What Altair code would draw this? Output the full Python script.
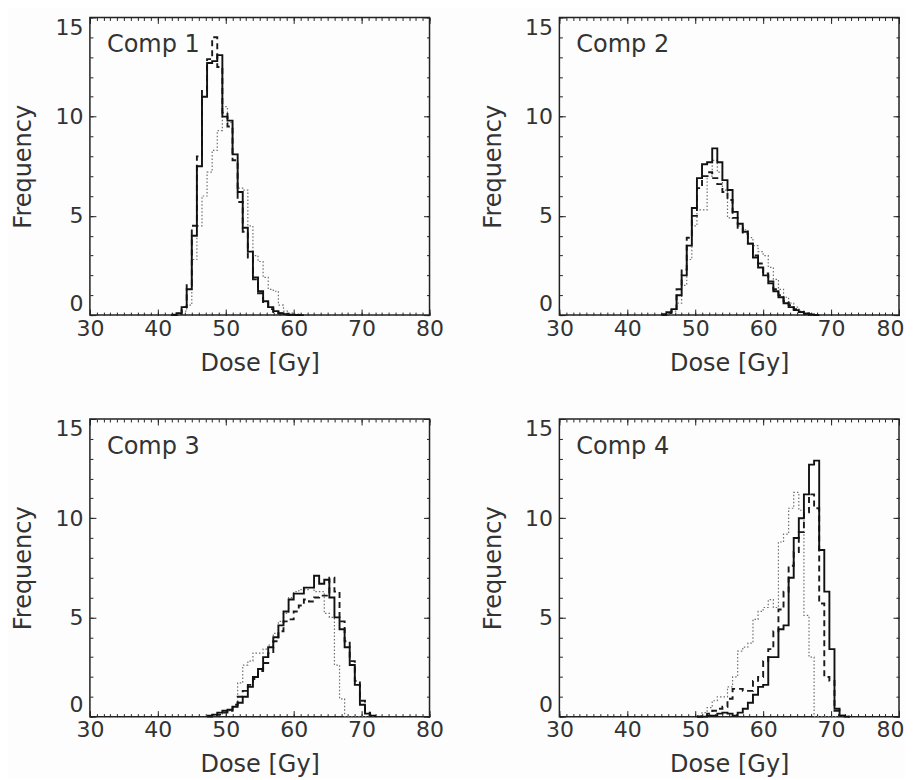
import altair as alt
import pandas as pd

# ---------------- data ----------------
BIN = 0.75  # histogram bin width [Gy]

X_MAJOR = [30, 40, 50, 60, 70, 80]
X_MINOR = list(range(30, 81))
Y_MAJOR = [0, 5, 10, 15]
Y_MINOR = list(range(0, 16))

PANEL_NAMES = ["Comp 1", "Comp 2", "Comp 3", "Comp 4"]

# Comp 1: bins start at 42.0 Gy
p1_start = 42.0
p1_solid = [0.02, 0.1, 0.4, 1.3, 4.0, 7.5, 11.0, 12.7, 12.8, 13.1, 10.0, 9.8, 8.1, 6.2, 4.4, 3.2,
            1.9, 1.2, 0.7, 0.4, 0.2, 0.1, 0.05, 0.02, 0.01, 0.0]
p1_dashed = [0.0, 0.05, 0.4, 1.5, 4.5, 8.0, 11.3, 12.9, 14.0, 12.5, 10.2, 9.5, 7.8, 5.7, 4.2, 2.9,
             1.8, 1.1, 0.6, 0.3, 0.15, 0.08, 0.03, 0.01, 0.0, 0.0]
p1_dotted = [0.0, 0.05, 0.2, 0.5, 2.8, 4.5, 6.0, 7.2, 8.3, 9.3, 10.5, 9.7, 8.1, 6.4, 6.3, 4.5,
             3.0, 2.7, 1.9, 1.3, 1.2, 0.5, 0.2, 0.1, 0.05, 0.0]

# Comp 2: bins start at 45.0 Gy
p2_start = 45.0
p2_solid = [0.05, 0.15, 0.3, 1.0, 2.0, 3.5, 5.4, 6.9, 7.6, 7.7, 8.4, 7.7, 6.8, 6.3, 5.2, 4.6,
            4.2, 3.6, 2.9, 2.4, 2.0, 1.6, 1.2, 0.9, 0.6, 0.4, 0.25, 0.15, 0.07, 0.03, 0.0]
p2_dashed = [0.0, 0.1, 0.3, 1.3, 2.3, 3.9, 5.0, 6.4, 7.0, 7.2, 6.9, 6.6, 6.2, 5.8, 4.9, 4.4,
             4.1, 3.6, 3.0, 2.6, 2.1, 1.7, 1.3, 1.0, 0.7, 0.5, 0.3, 0.15, 0.08, 0.03, 0.0]
p2_dotted = [0.0, 0.05, 0.2, 0.6, 1.5, 2.8, 4.5, 5.3, 5.3, 7.0, 7.8, 7.2, 6.3, 4.9, 4.9, 4.5,
             4.3, 3.9, 3.5, 3.2, 3.0, 2.4, 1.8, 1.3, 0.9, 0.6, 0.4, 0.2, 0.1, 0.05, 0.02]

# Comp 3: bins start at 47.25 Gy
p3_start = 47.25
p3_solid = [0.05, 0.1, 0.2, 0.3, 0.35, 0.5, 0.7, 1.0, 1.5, 2.0, 2.4, 3.0, 3.5, 4.0, 4.6, 5.3,
            5.9, 6.2, 6.2, 6.5, 6.5, 7.1, 6.7, 6.9, 6.0, 5.0, 4.4, 3.5, 2.6, 1.6, 0.6, 0.15, 0.05]
p3_dashed = [0.0, 0.05, 0.1, 0.2, 0.3, 0.6, 1.0, 1.3, 1.6, 1.9, 2.3, 2.7, 3.2, 3.8, 4.3, 4.8,
             4.9, 5.3, 5.6, 5.9, 5.8, 6.0, 6.1, 6.1, 7.0, 6.3, 4.8, 3.8, 2.8, 1.8, 0.8, 0.2, 0.05]
p3_dotted = [0.0, 0.05, 0.1, 0.2, 0.3, 0.5, 1.7, 2.6, 2.8, 3.2, 3.2, 3.4, 3.6, 4.2, 4.8, 5.2,
             6.0, 6.3, 6.4, 6.4, 6.5, 6.3, 6.3, 5.2, 5.0, 2.6, 0.9, 0.0, 0.0, 0.0, 0.0, 0.0, 0.0]

# Comp 4: bins start at 50.25 Gy
p4_start = 50.25
p4_solid = [0.0, 0.0, 0.05, 0.05, 0.15, 0.2, 0.15, 0.05, 0.2, 0.4, 0.7, 1.1, 1.5, 1.6, 3.0,
            3.0, 4.4, 4.6, 7.0, 9.0, 10.0, 11.2, 12.7, 12.9, 8.4, 6.3, 3.4, 0.4, 0.05, 0.0]
p4_dashed = [0.0, 0.05, 0.15, 0.3, 0.4, 0.5, 0.9, 1.4, 1.4, 1.3, 1.3, 1.8, 2.0, 2.8, 3.4,
             4.3, 5.4, 6.3, 7.6, 8.3, 9.3, 10.3, 11.2, 10.5, 5.7, 2.0, 1.8, 0.3, 0.05, 0.0]
p4_dotted = [0.05, 0.2, 0.45, 0.8, 1.0, 1.0, 1.5, 2.0, 3.3, 3.5, 3.7, 4.9, 5.3, 5.5, 5.9,
             5.5, 8.8, 9.2, 10.5, 11.3, 10.4, 5.1, 3.0, 0.0, 0.0, 0.0, 0.0, 0.0, 0.0, 0.0]

PANELS = [
    (p1_start, p1_solid, p1_dashed, p1_dotted),
    (p2_start, p2_solid, p2_dashed, p2_dotted),
    (p3_start, p3_solid, p3_dashed, p3_dotted),
    (p4_start, p4_solid, p4_dashed, p4_dotted),
]

# ---------------- styling ----------------
FONT = "DejaVu Sans"
TXT = "#333333"
INK = "#222222"
LFS = 22   # tick label size
TFS = 24   # title size
MAJ = 6
MIN = 3
W, H = 340, 298


def step_df(start, vals):
    xs = [start + i * BIN for i in range(len(vals))] + [start + len(vals) * BIN]
    ys = list(vals) + [0.0]
    return pd.DataFrame({"dose": xs, "freq": ys})


def ax(**kw):
    base = dict(domain=False, grid=False, tickColor=INK, tickWidth=1,
                labelFont=FONT, labelFontSize=LFS, labelColor=TXT,
                titleFont=FONT, titleFontSize=TFS, titleColor=TXT, titleFontWeight="normal")
    base.update(kw)
    return alt.Axis(**base)


XSCALE = alt.Scale(domain=[30, 80], nice=False, zero=False)
YSCALE = alt.Scale(domain=[0, 15], nice=False, zero=False)


def panel(idx):
    start, solid, dashed, dotted = PANELS[idx]
    right_col = idx % 2 == 1
    xlab_kw = dict(labelFlush=False)
    if right_col:
        xlab_kw["labelAlign"] = {"condition": {"test": "datum.value == 80", "value": "right"},
                                 "value": "center"}
        xlab_kw["labelOffset"] = {"condition": {"test": "datum.value == 80", "value": 5},
                                  "value": 0}

    x_bot_major = ax(orient="bottom", values=X_MAJOR, tickSize=MAJ, offset=-MAJ,
                     labelPadding=3, title="Dose [Gy]", titlePadding=12, **xlab_kw)
    y_left_major = ax(orient="left", values=Y_MAJOR, tickSize=MAJ, offset=-MAJ,
                      labelPadding=7, labelFlush=True, title="Frequency", titlePadding=19)
    x_bot_minor = ax(orient="bottom", values=X_MINOR, tickSize=MIN, offset=-MIN,
                     labels=False, title=None)
    y_left_minor = ax(orient="left", values=Y_MINOR, tickSize=MIN, offset=-MIN,
                      labels=False, title=None)
    x_top_major = ax(orient="top", values=X_MAJOR, tickSize=MAJ, offset=-MAJ,
                     labels=False, title=None)
    y_right_major = ax(orient="right", values=Y_MAJOR, tickSize=MAJ, offset=-MAJ,
                       labels=False, title=None)
    x_top_minor = ax(orient="top", values=X_MINOR, tickSize=MIN, offset=-MIN,
                     labels=False, title=None)
    y_right_minor = ax(orient="right", values=Y_MINOR, tickSize=MIN, offset=-MIN,
                       labels=False, title=None)

    dotted_l = alt.Chart(step_df(start, dotted)).mark_line(
        interpolate="step-after", color="#707070", strokeWidth=1.2, strokeDash=[1.5, 2]
    ).encode(x=alt.X("dose:Q", scale=XSCALE, axis=x_top_major),
             y=alt.Y("freq:Q", scale=YSCALE, axis=y_right_major))

    dashed_l = alt.Chart(step_df(start, dashed)).mark_line(
        interpolate="step-after", color="#1a1a1a", strokeWidth=1.9, strokeDash=[6, 4]
    ).encode(x=alt.X("dose:Q", scale=XSCALE, axis=x_bot_minor),
             y=alt.Y("freq:Q", scale=YSCALE, axis=y_left_minor))

    solid_l = alt.Chart(step_df(start, solid)).mark_line(
        interpolate="step-after", color="#111111", strokeWidth=1.9
    ).encode(x=alt.X("dose:Q", scale=XSCALE, axis=x_bot_major),
             y=alt.Y("freq:Q", scale=YSCALE, axis=y_left_major))

    ghost = alt.Chart(step_df(start, solid)).mark_line(opacity=0).encode(
        x=alt.X("dose:Q", scale=XSCALE, axis=x_top_minor),
        y=alt.Y("freq:Q", scale=YSCALE, axis=y_right_minor))

    label = alt.Chart(pd.DataFrame({"name": [PANEL_NAMES[idx]]})).mark_text(
        align="left", baseline="alphabetic", font=FONT, fontSize=TFS, color=TXT
    ).encode(text="name:N", x=alt.value(17), y=alt.value(35))

    return alt.layer(dotted_l, dashed_l, solid_l, ghost, label).resolve_axis(
        x="independent", y="independent"
    ).properties(width=W, height=H)


chart = alt.concat(
    panel(0), panel(1), panel(2), panel(3),
    columns=2, spacing={"row": 104, "column": 130}, bounds="flush"
).properties(
    padding={"left": 3, "top": 7, "right": 0, "bottom": 0},
    background="#fdfdfd",
).configure_view(stroke=INK, strokeWidth=1.5)

chart.save("out.html", embed_options={"renderer": "svg", "actions": False})
